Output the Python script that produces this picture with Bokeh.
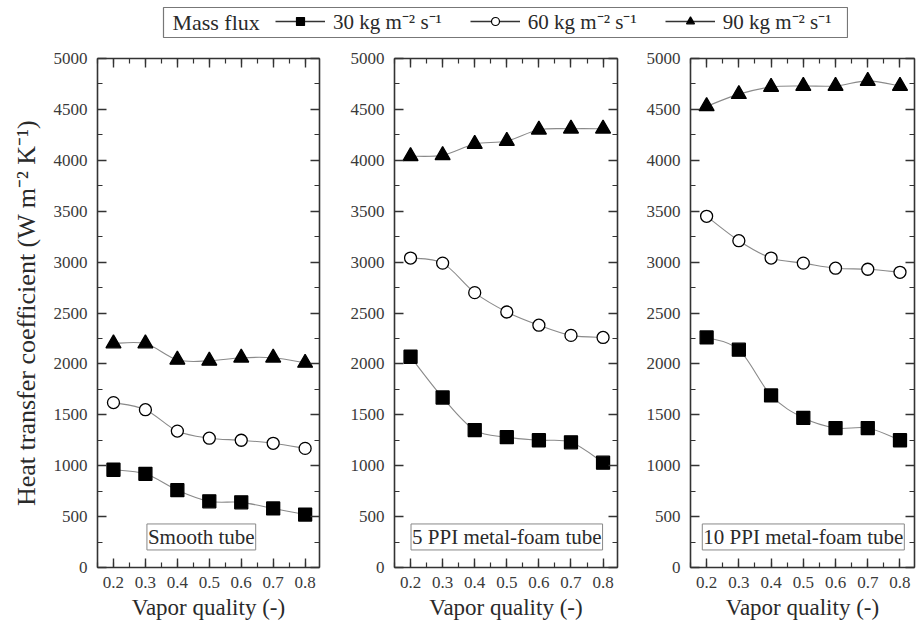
from bokeh.plotting import figure
from bokeh.models import (Range1d, LinearAxis, SingleIntervalTicker, Label,
                          Legend, LegendItem, CustomJSTickFormatter, Spacer)
from bokeh.layouts import column, row
from bokeh.embed import file_html
from bokeh.resources import INLINE

# ---------------- data ----------------
quality = [0.2, 0.3, 0.4, 0.5, 0.6, 0.7, 0.8]

smooth_30 = [960, 920, 760, 650, 640, 580, 520]
smooth_60 = [1620, 1550, 1340, 1270, 1250, 1220, 1170]
smooth_90 = [2200, 2200, 2040, 2030, 2060, 2060, 2010]

ppi5_30 = [2070, 1670, 1350, 1280, 1250, 1230, 1030]
ppi5_60 = [3040, 2990, 2700, 2510, 2380, 2280, 2260]
ppi5_90 = [4040, 4050, 4160, 4190, 4300, 4310, 4310]

ppi10_30 = [2260, 2140, 1690, 1470, 1370, 1370, 1250]
ppi10_60 = [3450, 3210, 3040, 2990, 2940, 2930, 2900]
ppi10_90 = [4530, 4650, 4720, 4730, 4730, 4780, 4730]

panel_titles = ["Smooth tube", "5 PPI metal-foam tube", "10 PPI metal-foam tube"]
series_labels = ["30 kg m\u207B\u00B2 s\u207B\u00B9", "60 kg m\u207B\u00B2 s\u207B\u00B9",
                 "90 kg m\u207B\u00B2 s\u207B\u00B9"]
legend_title = "Mass flux"
x_label = "Vapor quality (-)"
y_label = "Heat transfer coefficient (W m\u207B\u00B2 K\u207B\u00B9)"

panels = [
    [smooth_30, smooth_60, smooth_90],
    [ppi5_30, ppi5_60, ppi5_90],
    [ppi10_30, ppi10_60, ppi10_90],
]

FONT = "Liberation Serif"
TXT = "#2a2a2a"
markers = ["square", "circle", "triangle"]
fills = ["black", "white", "black"]
msizes = [13, 12, 15]
NAN = float("nan")


def smooth_segments(xs, ys):
    """Catmull-Rom control points for bezier segments through the data points."""
    n = len(xs)
    x0, y0, x1, y1, cx0, cy0, cx1, cy1 = [], [], [], [], [], [], [], []
    for i in range(n - 1):
        ip = max(i - 1, 0)
        inn = min(i + 2, n - 1)
        x0.append(xs[i]); y0.append(ys[i])
        x1.append(xs[i + 1]); y1.append(ys[i + 1])
        cx0.append(xs[i] + (xs[i + 1] - xs[ip]) / 6.0)
        cy0.append(ys[i] + (ys[i + 1] - ys[ip]) / 6.0)
        cx1.append(xs[i + 1] - (xs[inn] - xs[i]) / 6.0)
        cy1.append(ys[i + 1] - (ys[inn] - ys[i]) / 6.0)
    return dict(x0=x0, y0=y0, x1=x1, y1=y1, cx0=cx0, cy0=cy0, cx1=cx1, cy1=cy1)


blank = CustomJSTickFormatter(code="return '';")


def make_panel(idx, data, title):
    borders = [(97, 11), (64, 10), (63, 5)]
    fw = [222, 223, 224]
    label_x = [0.475, 0.5, 0.5]
    p = figure(frame_width=fw[idx], frame_height=509,
               x_range=Range1d(0.15, 0.845), y_range=Range1d(0, 5000),
               output_backend="svg", toolbar_location=None,
               min_border_left=borders[idx][0], min_border_right=borders[idx][1],
               min_border_top=13, min_border_bottom=67)
    p.grid.visible = False
    p.outline_line_color = None
    p.background_fill_color = "white"
    p.border_fill_color = "white"

    xt = SingleIntervalTicker(interval=0.1, num_minor_ticks=2)
    yt = SingleIntervalTicker(interval=500, num_minor_ticks=2)
    bottom = p.below[0]
    left = p.left[0]
    bottom.ticker = xt
    left.ticker = yt

    top = LinearAxis(ticker=xt, formatter=blank)
    right = LinearAxis(ticker=yt, formatter=blank)
    p.add_layout(top, "above")
    p.add_layout(right, "right")

    for ax in [bottom, left, top, right]:
        ax.axis_line_color = "#333333"
        ax.axis_line_width = 1.6
        ax.major_tick_line_color = "#333333"
        ax.minor_tick_line_color = "#333333"
        ax.major_tick_line_width = 1.4
        ax.minor_tick_line_width = 1.2
        ax.major_tick_in = 9
        ax.major_tick_out = 0
        ax.minor_tick_in = 5
        ax.minor_tick_out = 0
        ax.major_label_text_font = FONT
        ax.major_label_text_color = "#3a3a3a"
        ax.axis_label_text_font = FONT
        ax.axis_label_text_font_style = "normal"
        ax.axis_label_text_color = TXT
    for ax in [top, right]:
        ax.major_label_standoff = 0

    bottom.major_label_text_font_size = "17px"
    bottom.major_label_standoff = 9
    bottom.axis_label = x_label
    bottom.axis_label_text_font_size = "23px"
    bottom.axis_label_standoff = 4

    left.major_label_text_font_size = "17px"
    left.major_label_standoff = 10
    if idx == 0:
        left.axis_label = y_label
        left.axis_label_text_font_size = "26px"
        left.axis_label_standoff = 10

    for k, ys in enumerate(data):
        seg = smooth_segments(quality, ys)
        p.bezier(x0="x0", y0="y0", x1="x1", y1="y1", cx0="cx0", cy0="cy0",
                 cx1="cx1", cy1="cy1", source=seg, line_color="#8a8a8a", line_width=1.1)
    for k, ys in enumerate(data):
        p.scatter(quality, ys, marker=markers[k], size=msizes[k],
                  fill_color=fills[k], line_color="black", line_width=1.3)

    lab = Label(x=label_x[idx], y=300, text=title, text_align="center",
                text_baseline="middle",
                text_font=FONT, text_font_size="21px", text_color=TXT,
                border_line_color="#888888", border_line_width=1,
                background_fill_color="white", padding=1)
    p.add_layout(lab)
    return p


figs = [make_panel(i, panels[i], panel_titles[i]) for i in range(3)]

# ---------------- legend strip ----------------
lf = figure(frame_width=684, frame_height=30, x_range=Range1d(0, 1), y_range=Range1d(0, 1),
            output_backend="svg", toolbar_location=None,
            x_axis_location=None, y_axis_location=None,
            min_border_left=1, min_border_right=1, min_border_top=7, min_border_bottom=8)
lf.grid.visible = False
lf.outline_line_color = "#777777"
lf.outline_line_width = 1.2

lf.add_layout(Label(x=0.013, y=0.5, text=legend_title, text_font=FONT,
                    text_font_size="22px", text_color=TXT, text_baseline="middle",
                    text_align="left"))

items = []
for k in range(3):
    lr = lf.line(x=[NAN], y=[NAN], line_color="#333333", line_width=1.3)
    sr = lf.scatter(x=[NAN], y=[NAN], marker=markers[k], size=msizes[k] - 3,
                    fill_color=fills[k], line_color="black", line_width=1.2)
    items.append(LegendItem(label=series_labels[k], renderers=[lr, sr]))

leg = Legend(items=items, orientation="horizontal")
leg.location = (112, 2)
leg.label_text_font = FONT
leg.label_text_font_size = "21px"
leg.label_text_color = TXT
leg.glyph_width = 50
leg.glyph_height = 20
leg.label_standoff = 8
leg.spacing = 28
leg.padding = 0
leg.margin = 0
leg.border_line_color = None
leg.background_fill_alpha = 0
lf.add_layout(leg, "center")

top_row = row(Spacer(width=162, height=45), lf)
layout = column(top_row, row(*figs))

with open("out.html", "w") as f:
    f.write(file_html(layout, INLINE))
